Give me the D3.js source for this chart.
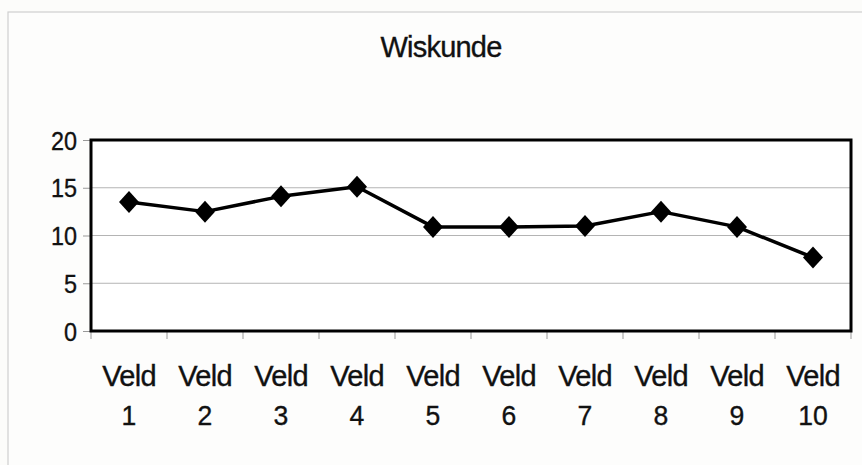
<!DOCTYPE html>
<html>
<head>
<meta charset="utf-8">
<script src="https://cdn.jsdelivr.net/npm/d3@7"></script>
<style>
  body { margin: 0; background: #fcfcfa; }
  svg { display: block; font-family: "Liberation Sans", Arial, sans-serif; }
  svg text { stroke: #111; stroke-width: 0.35px; }
</style>
</head>
<body>
<div id="chart"></div>
<script>
const title = 'Wiskunde'
const categories = ['Veld 1','Veld 2','Veld 3','Veld 4','Veld 5','Veld 6','Veld 7','Veld 8','Veld 9','Veld 10']
const values = [13.5, 12.5, 14.1, 15.1, 10.9, 10.9, 11.0, 12.5, 10.9, 7.7]
const yTicks = [0, 5, 10, 15, 20]

const W = 862, H = 465
const svg = d3.select('#chart').append('svg').attr('width', W).attr('height', H)

// outer chart frame
svg.append('rect')
  .attr('x', 8).attr('y', 12)
  .attr('width', W + 10).attr('height', H)
  .attr('fill', '#fdfdfc').attr('stroke', '#cfcfcf').attr('stroke-width', 1.2)

const plot = {left: 91, right: 851, top: 140, bottom: 331}

const x = d3.scaleBand().domain(categories).range([plot.left, plot.right])
const y = d3.scaleLinear().domain([0, 20]).range([plot.bottom, plot.top])

svg.append('text')
  .attr('x', 441).attr('y', 57)
  .attr('text-anchor', 'middle')
  .attr('font-size', 29)
  .attr('letter-spacing', -0.8)
  .attr('fill', '#111')
  .text(title)

// plot area background
svg.append('rect')
  .attr('x', plot.left).attr('y', plot.top)
  .attr('width', plot.right - plot.left).attr('height', plot.bottom - plot.top)
  .attr('fill', '#fff')

// gridlines
svg.append('g').selectAll('line')
  .data(yTicks.slice(1, -1))
  .enter().append('line')
  .attr('x1', plot.left).attr('x2', plot.right)
  .attr('y1', d => y(d)).attr('y2', d => y(d))
  .attr('stroke', '#b4b4b4').attr('stroke-width', 1)

// y axis
const yAxis = svg.append('g').attr('transform', `translate(${plot.left},0)`)
  .call(d3.axisLeft(y).tickValues(yTicks).tickSize(8).tickPadding(0))
yAxis.select('.domain').remove()
yAxis.selectAll('.tick line').attr('stroke', '#999')
yAxis.selectAll('.tick text')
  .attr('x', null).attr('dy', null)
  .attr('transform', `translate(-14,9) scale(0.9,1)`)
  .attr('font-size', 26).attr('fill', '#111')
  .attr('font-family', '"Liberation Sans", Arial, sans-serif')

// x axis ticks at band boundaries
const bounds = categories.map(c => x(c)).concat([plot.right])
svg.append('g').selectAll('line')
  .data(bounds)
  .enter().append('line')
  .attr('x1', d => d).attr('x2', d => d)
  .attr('y1', plot.bottom).attr('y2', plot.bottom + 8)
  .attr('stroke', '#999')

// x labels (two lines)
const xg = svg.append('g').selectAll('g')
  .data(categories)
  .enter().append('g')
  .attr('transform', d => `translate(${x(d) + x.bandwidth() / 2},0)`)
xg.append('text')
  .attr('y', 386)
  .attr('text-anchor', 'middle')
  .attr('font-size', 29)
  .attr('letter-spacing', -0.7)
  .attr('fill', '#111')
  .text(d => d.split(' ')[0])
xg.append('text')
  .attr('transform', `translate(0,425) scale(0.95,1)`)
  .attr('text-anchor', 'middle')
  .attr('font-size', 28)
  .attr('fill', '#111')
  .text(d => d.split(' ')[1])

// plot border
svg.append('rect')
  .attr('x', plot.left).attr('y', plot.top)
  .attr('width', plot.right - plot.left).attr('height', plot.bottom - plot.top)
  .attr('fill', 'none').attr('stroke', '#000').attr('stroke-width', 3)

// line
const pts = categories.map((c, i) => [x(c) + x.bandwidth() / 2, y(values[i])])
svg.append('path')
  .attr('d', d3.line()(pts))
  .attr('fill', 'none').attr('stroke', '#000').attr('stroke-width', 3.5)
  .attr('stroke-linejoin', 'round')

// diamond markers
svg.append('g').selectAll('path')
  .data(pts)
  .enter().append('path')
  .attr('transform', d => `translate(${d[0]},${d[1]})`)
  .attr('d', 'M0,-11L10,0L0,11L-10,0Z')
  .attr('fill', '#000')
</script>
</body>
</html>
